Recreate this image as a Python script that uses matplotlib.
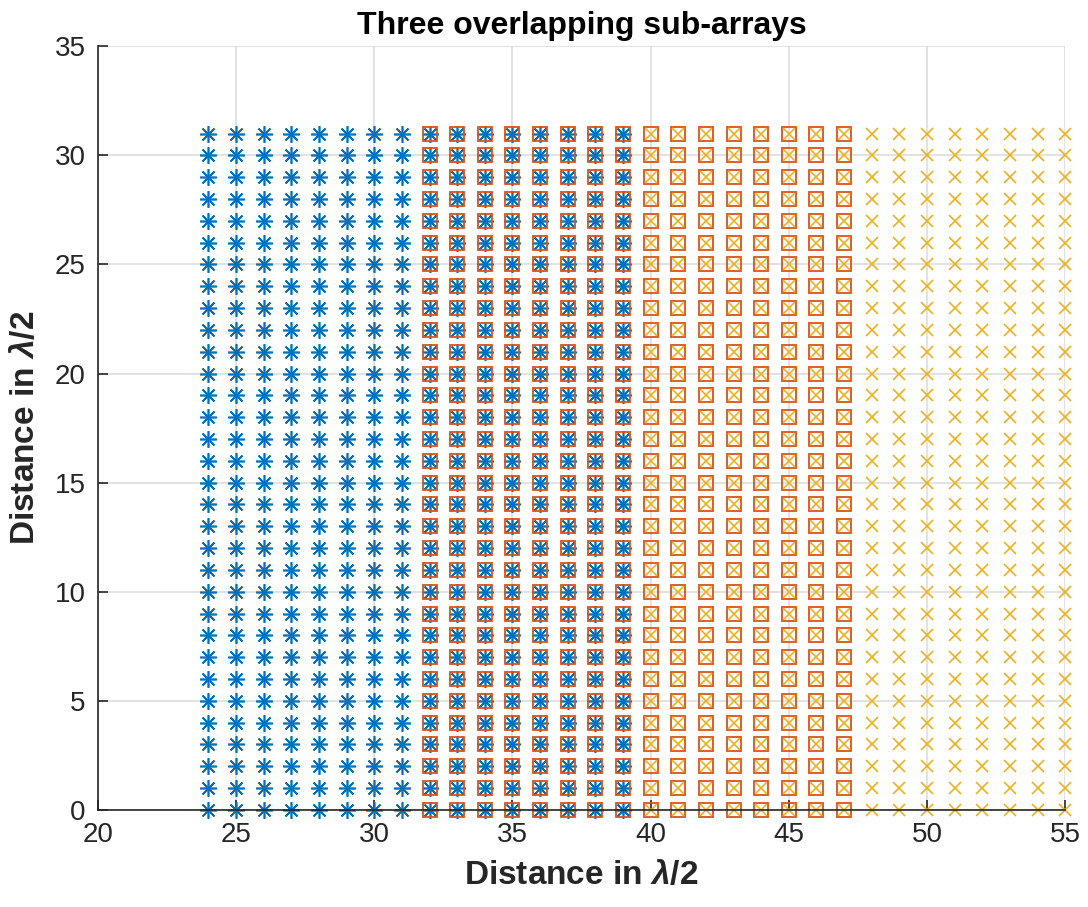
import matplotlib
matplotlib.use("Agg")
import matplotlib.pyplot as plt
import numpy as np

plt.rcParams['font.family'] = ['Liberation Sans', 'DejaVu Sans']
plt.rcParams['mathtext.fontset'] = 'custom'
plt.rcParams['mathtext.it'] = 'Liberation Sans:italic:bold'
plt.rcParams['mathtext.rm'] = 'Liberation Sans:bold'

# element positions (in lambda/2) of each sub-array
rows = np.arange(0, 32)
cols_a = np.arange(24, 40)
cols_b = np.arange(32, 48)
cols_c = np.arange(40, 56)

title = "Three overlapping sub-arrays"
xlabel = r"Distance in $\lambda$/2"
ylabel = r"Distance in $\lambda$/2"

fig = plt.figure(figsize=[10.88, 9.07], dpi=100)
ax = fig.add_axes([0.090, 0.107, 0.889, 0.842])

xa, ya = np.meshgrid(cols_a, rows)
xb, yb = np.meshgrid(cols_b, rows)
xc, yc = np.meshgrid(cols_c, rows)

ax.plot(xa.ravel(), ya.ravel(), linestyle='none', marker=(8, 2, 0), markersize=12,
        markeredgewidth=1.2, color='#0072BD', clip_on=False)
ax.plot(xb.ravel(), yb.ravel(), linestyle='none', marker='s', markersize=10,
        markeredgewidth=1.3, markerfacecolor='none', color='#D95319', clip_on=False)
ax.plot(xc.ravel(), yc.ravel(), linestyle='none', marker='x', markersize=9,
        markeredgewidth=1.2, color='#EDB120', clip_on=False)

ax.set_xlim(20, 55)
ax.set_ylim(0, 35)
ax.set_xticks(np.arange(20, 56, 5))
ax.set_yticks(np.arange(0, 36, 5))
ax.grid(True, color='#dddddd', linewidth=1.2)
ax.set_axisbelow(True)
for s in ['top', 'right']:
  ax.spines[s].set_visible(False)
for s in ['left', 'bottom']:
  ax.spines[s].set_color('#262626')
  ax.spines[s].set_linewidth(1.2)
ax.tick_params(direction='in', length=7, width=1.2, labelsize=20, colors='#262626', pad=9)

ax.set_title(title, fontsize=23, fontweight='bold', pad=9)
ax.set_xlabel(xlabel, fontsize=24, fontweight='bold', labelpad=8, color='#262626')
ax.set_ylabel(ylabel, fontsize=24, fontweight='bold', labelpad=10, color='#262626')

plt.savefig("out.png", dpi=100)
